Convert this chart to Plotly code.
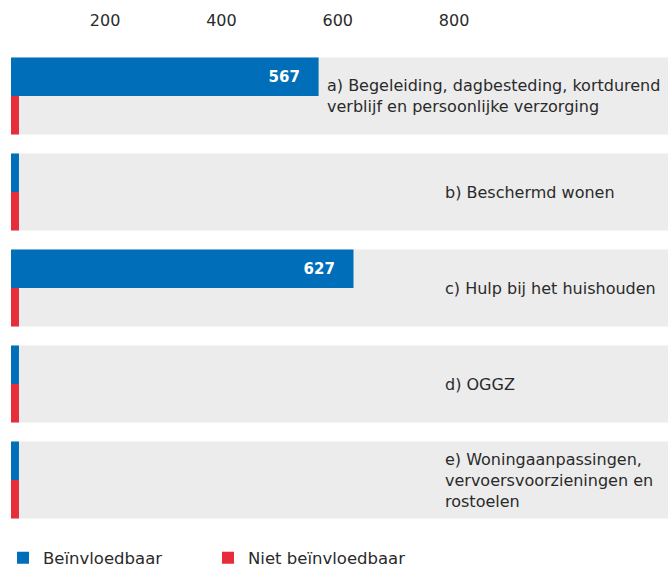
import plotly.graph_objects as go

categories = ["a", "b", "c", "d", "e"]
category_labels = [
    "a) Begeleiding, dagbesteding, kortdurend<br>verblijf en persoonlijke verzorging",
    "b) Beschermd wonen",
    "c) Hulp bij het huishouden",
    "d) OGGZ",
    "e) Woningaanpassingen,<br>vervoersvoorzieningen en<br>rostoelen",
]
beinvloedbaar = [567, 52, 627, 52, 52]
niet_beinvloedbaar = [52, 52, 52, 52, 52]
value_labels = ["567", "", "627", "", ""]
tick_values = [200, 400, 600, 800]

BLUE = "#006EB8"
RED = "#E52E39"
GREY = "#ECECEC"
FONT = "DejaVu Sans"
TEXT = "#2a2a2a"
pad = "\u00a0\u00a0\u00a0"

fig = go.Figure()
fig.add_trace(go.Bar(
    y=categories, x=beinvloedbaar, orientation="h", name="Beïnvloedbaar",
    marker=dict(color=BLUE, line=dict(width=0)),
    text=[t + pad if t else "" for t in value_labels],
    textposition="inside", insidetextanchor="end", textangle=0,
    textfont=dict(family=FONT, size=15, color="white", weight="bold"),
    hoverinfo="x+name",
))
fig.add_trace(go.Bar(
    y=categories, x=niet_beinvloedbaar, orientation="h", name="Niet beïnvloedbaar",
    marker=dict(color=RED, line=dict(width=0)),
    hoverinfo="x+name",
))

shapes = []
annotations = []
for i, cat in enumerate(categories):
    shapes.append(dict(type="rect", xref="paper", yref="y", x0=0, x1=1,
                       y0=i - 0.4, y1=i + 0.4, fillcolor=GREY,
                       line=dict(width=0), layer="below"))
    if i == 0:
        ann = dict(xref="x", x=beinvloedbaar[i], xshift=6)
    else:
        ann = dict(xref="paper", x=(443 - 11) / 657)
    ann.update(yref="y", y=i, text=category_labels[i], showarrow=False,
               xanchor="left", yanchor="middle", align="left",
               font=dict(family=FONT, size=16, color=TEXT))
    annotations.append(ann)

fig.update_layout(
    width=668, height=571,
    margin=dict(l=11, r=0, t=48, b=43, autoexpand=False),
    paper_bgcolor="white", plot_bgcolor="white",
    barmode="group", bargap=0.2, bargroupgap=0,
    shapes=shapes, annotations=annotations,
    font=dict(family=FONT, size=16, color=TEXT),
    xaxis=dict(side="top", range=[38.3, 1167.6], tickvals=tick_values,
               showgrid=False, zeroline=False, showline=False, ticks="",
               ticklabelstandoff=18, tickfont=dict(size=16, color=TEXT)),
    yaxis=dict(range=[4.5, -0.5], showticklabels=False, showgrid=False,
               zeroline=False, showline=False, ticks=""),
    legend=dict(orientation="h", x=-8 / 657, xanchor="left", y=-0.026, yanchor="top",
                entrywidth=160, font=dict(family=FONT, size=16.5, color=TEXT),
                traceorder="normal"),
    showlegend=True,
)

fig.write_html("out.html", config={"displayModeBar": False},
               post_script="document.body.style.margin='0';")
